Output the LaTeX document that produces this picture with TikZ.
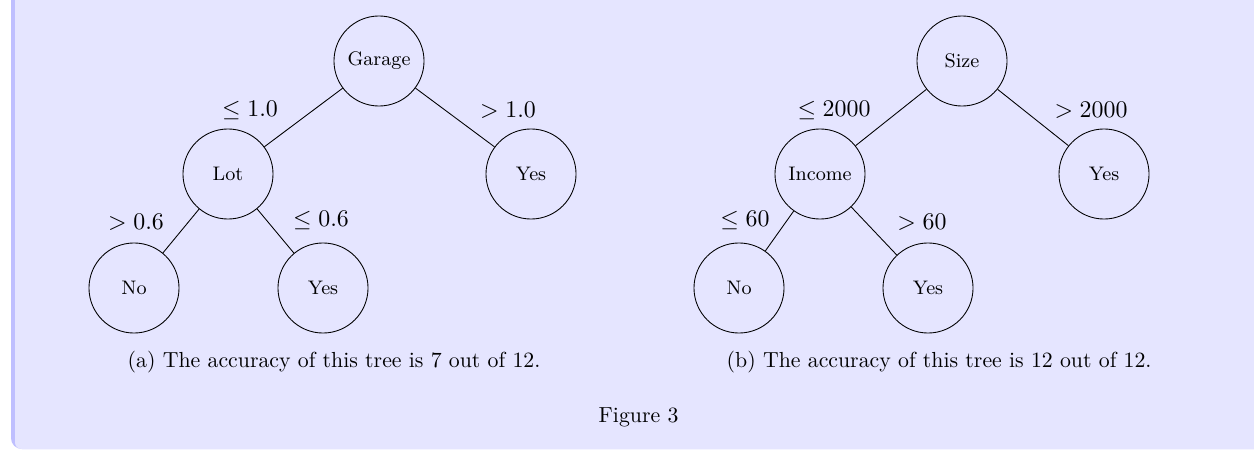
\documentclass[tikz,border=0pt]{standalone}
\usepackage{tikz}
\usetikzlibrary{positioning}
\definecolor{boxfill}{RGB}{229,229,255}
\definecolor{boxrule}{RGB}{191,191,255}
\tikzset{
  treenode/.style={circle, draw=black, fill=boxfill,
    minimum size=41.3pt, inner sep=0pt, font=\small},
  cond/.style={anchor=base, font=\fontsize{10.6}{12}\selectfont},
  captext/.style={anchor=base west, font=\normalsize},
  branch/.style={color=black}
}

\begin{document}
\begin{tikzpicture}[x=0.4587pt, y=-0.4587pt]
  \useasboundingbox (0,0) rectangle (1254,450);
  % Frame
  \begin{scope}
    \clip (0,0) rectangle (1254,450);
    \fill[boxrule, rounded corners=5] (11,-20) rectangle (1280,449);
    \fill[boxfill, rounded corners=3] (15,-20) rectangle (1280,449);
  \end{scope}
  % Tree (a)
  \node[treenode] (garage) at (379,61) {Garage};
  \node[treenode] (lot) at (228,174) {Lot};
  \node[treenode] (yesa) at (531,174) {Yes};
  \node[treenode] (noa) at (134,288) {No};
  \node[treenode] (yesb) at (323,288) {Yes};
  \draw[branch] (garage) -- (lot);
  \draw[branch] (garage) -- (yesa);
  \draw[branch] (lot) -- (noa);
  \draw[branch] (lot) -- (yesb);
  \node[cond] (ga) at (250,117) {$\leq 1.0$};
  \node[cond] (gb) at (508,118) {$> 1.0$};
  \node[cond] (la) at (136,229) {$> 0.6$};
  \node[cond] (lb) at (321,226) {$\leq 0.6$};
  % Tree (b)
  \node[treenode] (size) at (962,61) {Size};
  \node[treenode] (income) at (820,174) {Income};
  \node[treenode] (yesc) at (1104,174) {Yes};
  \node[treenode] (nob) at (739,288) {No};
  \node[treenode] (yesd) at (928,288) {Yes};
  \draw[branch] (size) -- (income);
  \draw[branch] (size) -- (yesc);
  \draw[branch] (income) -- (nob);
  \draw[branch] (income) -- (yesd);
  \node[cond] (sa) at (834,117) {$\leq 2000$};
  \node[cond] (sb) at (1091,118) {$> 2000$};
  \node[cond] (ia) at (745,226) {$\leq 60$};
  \node[cond] (ib) at (922,229) {$> 60$};
  % Captions
  \node[captext] (capa) at (120,367) {(a) The accuracy of this tree is 7 out of 12.};
  \node[captext] (capb) at (719,367) {(b) The accuracy of this tree is 12 out of 12.};
  \node[captext] (fig) at (591,422) {Figure 3};
\end{tikzpicture}
\end{document}
